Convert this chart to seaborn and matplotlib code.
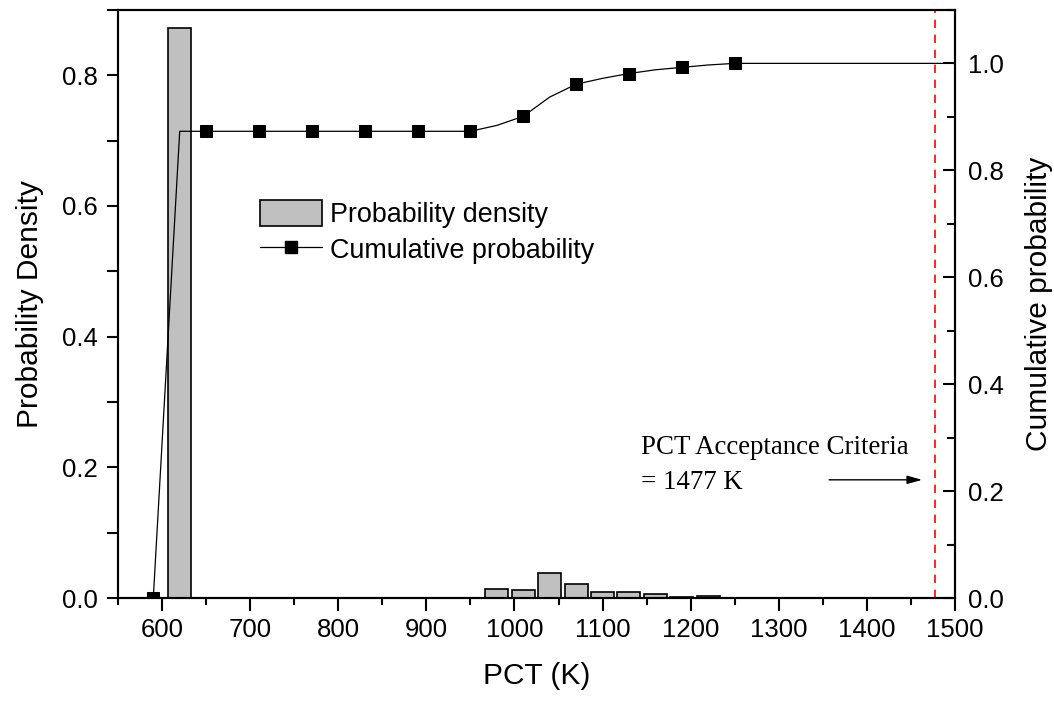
import matplotlib
matplotlib.use("Agg")
import matplotlib.pyplot as plt
import seaborn as sns
from matplotlib.patches import Patch
from matplotlib.lines import Line2D
from matplotlib.ticker import MultipleLocator, FormatStrFormatter

# bar data: bin centres (K) and probability per bin
bin_centers = [620, 980, 1010, 1040, 1070, 1100, 1130, 1160, 1190, 1220, 1250]
bin_probs = [0.873, 0.0138, 0.0119, 0.038, 0.0215, 0.0088, 0.0098, 0.006, 0.0015, 0.004, 0.0008]

# cumulative curve
cum_x = [590, 620, 650, 680, 710, 740, 770, 800, 830, 860, 890, 920, 950,
         980, 1010, 1040, 1070, 1100, 1130, 1160, 1190, 1220, 1250, 1500]
cum_y = [0.0, 0.873, 0.873, 0.873, 0.873, 0.873, 0.873, 0.873, 0.873, 0.873, 0.873, 0.873, 0.873,
         0.884, 0.901, 0.937, 0.961, 0.972, 0.981, 0.988, 0.9925, 0.997, 1.0, 1.0]

pct_limit = 1477

sns.set_style("ticks")
plt.rcParams["font.family"] = ["Liberation Sans", "DejaVu Sans"]
plt.rcParams.update({"text.color": "black", "axes.labelcolor": "black",
                     "xtick.color": "black", "ytick.color": "black",
                     "axes.edgecolor": "black"})

fig = plt.figure(figsize=(10.54, 7.07), dpi=100)
ax = fig.add_axes([0.112, 0.154, 0.794, 0.832])

sns.barplot(x=bin_centers, y=bin_probs, native_scale=True, errorbar=None,
            color="#c0c0c0", saturation=1, edgecolor="black", linewidth=1.2,
            width=0.87, ax=ax)

ax2 = ax.twinx()
sns.lineplot(x=cum_x, y=cum_y, estimator=None, color="black", linewidth=0.9,
             marker="s", markersize=9, markeredgecolor="black",
             markevery=list(range(0, 23, 2)), ax=ax2)

ax.set_xlim(550, 1500)
ax.set_ylim(0, 0.9)
ax2.set_ylim(0, 1.1)

ax.xaxis.set_major_locator(MultipleLocator(100))
ax.xaxis.set_minor_locator(MultipleLocator(50))
ax.yaxis.set_major_locator(MultipleLocator(0.2))
ax.yaxis.set_minor_locator(MultipleLocator(0.1))
ax2.yaxis.set_major_locator(MultipleLocator(0.2))
ax2.yaxis.set_minor_locator(MultipleLocator(0.1))
ax.yaxis.set_major_formatter(FormatStrFormatter("%.1f"))
ax2.yaxis.set_major_formatter(FormatStrFormatter("%.1f"))

for a in (ax, ax2):
    for s in a.spines.values():
        s.set_visible(True)
        s.set_linewidth(1.5)

tick_fs = 18.5
ax.tick_params(axis="x", which="major", direction="out", length=9, width=1.5, pad=5,
               top=False, labelsize=tick_fs)
ax.tick_params(axis="x", which="minor", direction="out", length=5, width=1.5, top=False)
ax.tick_params(axis="y", which="both", direction="out", length=8, width=1.5, pad=6.5,
               right=False, labelsize=tick_fs)
ax2.tick_params(axis="x", which="major", direction="in", length=9, width=1.5,
                top=True, bottom=False, labeltop=False)
ax2.tick_params(axis="x", which="minor", direction="in", length=5, width=1.5,
                top=True, bottom=False)
ax2.tick_params(axis="y", which="major", direction="in", length=9, width=1.5, pad=9.5,
                labelsize=tick_fs)
ax2.tick_params(axis="y", which="minor", direction="in", length=6, width=1.5)

label_fs = 21.5
ax.set_xlabel("PCT (K)", fontsize=label_fs, labelpad=15)
ax.set_ylabel("Probability Density", fontsize=label_fs, labelpad=13)
ax2.set_ylabel("Cumulative probability", fontsize=label_fs, labelpad=15)

# acceptance criterion
ax.axvline(pct_limit, color="red", linestyle=(0, (5, 4)), linewidth=1.2)
ax.annotate("", xy=(1466, 0.181), xytext=(1354, 0.181),
            arrowprops=dict(arrowstyle="-|>,head_length=0.9,head_width=0.25",
                            color="black", lw=1))
ax.text(1144, 0.2207, "PCT Acceptance Criteria", family="Liberation Serif",
        fontsize=19.4, va="baseline")
ax.text(1144, 0.167, "= %d K" % pct_limit, family="Liberation Serif",
        fontsize=19.4, va="baseline")

handles = [Patch(facecolor="#c0c0c0", edgecolor="black", linewidth=1.2),
           Line2D([], [], color="black", linewidth=0.9, marker="s", markersize=9)]
ax2.legend(handles, ["Probability density", "Cumulative probability"],
           loc="upper left", bbox_to_anchor=(0.153, 0.70), frameon=False,
           borderpad=0, handlelength=2.3, handleheight=1.1, handletextpad=0.33,
           labelspacing=0.31, fontsize=19.4)

fig.savefig("out.png", dpi=100)
